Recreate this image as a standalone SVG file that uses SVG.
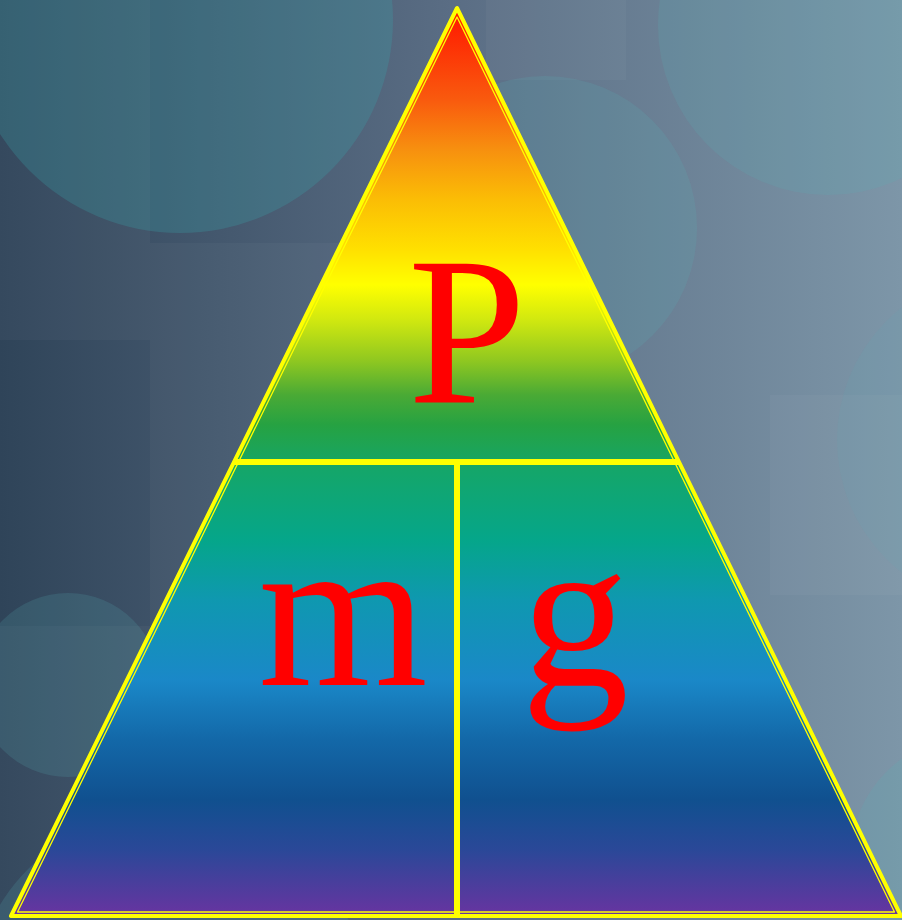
<svg xmlns="http://www.w3.org/2000/svg" width="902" height="920" viewBox="0 0 902 920">
<defs>
<linearGradient id="bg" x1="0" y1="0" x2="902" y2="0" gradientUnits="userSpaceOnUse">
<stop offset="0" stop-color="#2f4459"/>
<stop offset="0.5" stop-color="#5a6d84"/>
<stop offset="1" stop-color="#7d96a8"/>
</linearGradient>
<linearGradient id="rainbow" x1="0" y1="8" x2="0" y2="916" gradientUnits="userSpaceOnUse">
<stop offset="0.008" stop-color="#ff1a00"/>
<stop offset="0.101" stop-color="#f95a0e"/>
<stop offset="0.156" stop-color="#f7900f"/>
<stop offset="0.211" stop-color="#fbbd05"/>
<stop offset="0.266" stop-color="#ffe000"/>
<stop offset="0.305" stop-color="#ffff00"/>
<stop offset="0.344" stop-color="#d0e810"/>
<stop offset="0.388" stop-color="#90c820"/>
<stop offset="0.426" stop-color="#4aaa35"/>
<stop offset="0.459" stop-color="#26a242"/>
<stop offset="0.509" stop-color="#14a66a"/>
<stop offset="0.586" stop-color="#05a68a"/>
<stop offset="0.652" stop-color="#0f98b0"/>
<stop offset="0.740" stop-color="#1a88c8"/>
<stop offset="0.806" stop-color="#1368a8"/>
<stop offset="0.872" stop-color="#10508f"/>
<stop offset="0.927" stop-color="#2a4898"/>
<stop offset="0.996" stop-color="#6535a0"/>
</linearGradient>
</defs>
<style>
.bub{fill:#3aa0a8;opacity:0.28}
.bub2{fill:#5ab0b8;opacity:0.18}
.bub3{fill:#5ab0b8;opacity:0.1}
.blk{fill:#ffffff;opacity:0.03}
.edge{fill:none;stroke:#ffff00;stroke-linejoin:round}
.div{stroke:#ffff00;stroke-width:6}
.lbl{fill:#ff0000;text-anchor:middle;font-family:"Liberation Serif","Times New Roman",serif}
</style>
<g id="background">
<rect width="902" height="920" fill="url(#bg)"/>
<rect class="blk" x="0" y="0" width="150" height="340"/>
<rect class="blk" x="150" y="243" width="320" height="383"/>
<rect class="blk" x="0" y="626" width="150" height="294"/>
<rect class="blk" x="486" y="0" width="140" height="80"/>
<rect class="blk" x="770" y="395" width="132" height="200"/>
<circle class="bub" cx="180" cy="20" r="213"/>
<circle class="bub2" cx="545" cy="228" r="152"/>
<circle class="bub2" cx="828" cy="25" r="170"/>
<circle class="bub2" cx="68" cy="685" r="92"/>
<circle class="bub2" cx="170" cy="1010" r="200"/>
<circle class="bub3" cx="1005" cy="440" r="168"/>
<circle class="bub2" cx="975" cy="860" r="125"/>
</g>
<g id="pyramid">
<path d="M457 8 L11 916 L901 916 Z" fill="url(#rainbow)"/>
<path class="edge" d="M457 8 L11 916 L901 916 Z" stroke-width="4"/>
<path class="edge" d="M457 17 L17.5 912 L894.5 912 Z" stroke-width="1.3"/>
</g>
<g id="connectors">
<line class="div" x1="234" y1="462" x2="680" y2="462"/>
<line class="div" x1="457" y1="462" x2="457" y2="916"/>
</g>
<g id="node-P"><text class="lbl" x="467" y="403" font-size="212">P</text></g>
<g id="node-m"><text class="lbl" x="343" y="685" font-size="218">m</text></g>
<g id="node-g"><text class="lbl" x="575" y="685" font-size="216">g</text></g>
</svg>
